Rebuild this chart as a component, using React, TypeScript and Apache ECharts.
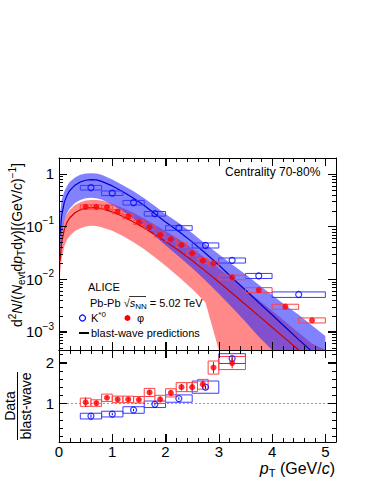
import React, { useEffect, useRef } from "react";
import * as echarts from "echarts";

// ---- blast-wave prediction curves ----
const bwPt = [0.02, 0.05, 0.1, 0.15, 0.2, 0.3, 0.4, 0.5, 0.6, 0.7, 0.8, 1.0, 1.2, 1.4, 1.6, 1.8, 2.0, 2.25, 2.5, 2.75, 3.0, 3.25, 3.5, 3.75, 4.0, 4.25, 4.5, 4.75, 5.0];
const bwKstar = [0.07, 0.16, 0.29, 0.39, 0.48, 0.61, 0.7, 0.755, 0.775, 0.77, 0.72, 0.59, 0.455, 0.345, 0.25, 0.175, 0.122, 0.08, 0.051, 0.031, 0.0185, 0.0106, 0.0062, 0.0036, 0.0021, 0.00122, 0.00071, 0.00042, 0.00025];
const bwKstarHi = [0.175, 0.32, 0.46, 0.585, 0.7, 0.85, 0.96, 1.02, 1.03, 1.02, 0.96, 0.785, 0.605, 0.466, 0.343, 0.245, 0.173, 0.116, 0.0755, 0.0465, 0.0296, 0.019, 0.0124, 0.0078, 0.005, 0.0032, 0.0021, 0.00131, 0.00083];
const bwKstarLo = [0.025, 0.07, 0.13, 0.18, 0.22, 0.28, 0.32, 0.345, 0.35, 0.345, 0.325, 0.26, 0.195, 0.14, 0.098, 0.066, 0.044, 0.027, 0.0163, 0.0094, 0.0053, 0.0029, 0.00155, 0.0008, 0.0001, 0.0001, 0.0001, 0.0001, 0.0001];
const bwPhi = [0.022, 0.05, 0.088, 0.12, 0.145, 0.182, 0.207, 0.222, 0.228, 0.227, 0.218, 0.19, 0.155, 0.122, 0.094, 0.07, 0.052, 0.035, 0.0225, 0.0142, 0.0088, 0.0054, 0.0033, 0.002, 0.00122, 0.00074, 0.00045, 0.00027, 0.00016];
const bwPhiHi = [0.05, 0.09, 0.135, 0.175, 0.205, 0.255, 0.29, 0.31, 0.32, 0.32, 0.31, 0.27, 0.225, 0.18, 0.142, 0.108, 0.082, 0.057, 0.038, 0.025, 0.0161, 0.0102, 0.0064, 0.004, 0.0025, 0.00155, 0.00096, 0.0006, 0.00037];
const bwPhiLo = [0.012, 0.025, 0.042, 0.056, 0.066, 0.082, 0.093, 0.1, 0.103, 0.102, 0.097, 0.083, 0.066, 0.05, 0.037, 0.026, 0.018, 0.011, 0.0065, 0.0036, 0.0001, 0.0001, 0.0001, 0.0001, 0.0001, 0.0001, 0.0001, 0.0001, 0.0001];

// ---- K*0 spectrum ----
const kstarPt = [0.6, 1.0, 1.4, 1.8, 2.25, 2.75, 3.25, 3.75, 4.5];
const kstarBinLo = [0.4, 0.8, 1.2, 1.6, 2.0, 2.5, 3.0, 3.5, 4.0];
const kstarBinHi = [0.8, 1.2, 1.6, 2.0, 2.5, 3.0, 3.5, 4.0, 5.0];
const kstarYield = [0.548, 0.43, 0.284, 0.175, 0.094, 0.0438, 0.0227, 0.01155, 0.0051];
const kstarSysRel = [0.1, 0.1, 0.1, 0.1, 0.1, 0.11, 0.11, 0.11, 0.12];

// ---- phi spectrum ----
const phiPt = [0.5, 0.7, 0.9, 1.1, 1.3, 1.5, 1.7, 1.9, 2.1, 2.3, 2.5, 2.7, 2.9, 3.25, 3.75, 4.25, 4.75];
const phiBinLo = [0.4, 0.6, 0.8, 1.0, 1.2, 1.4, 1.6, 1.8, 2.0, 2.2, 2.4, 2.6, 2.8, 3.0, 3.5, 4.0, 4.5];
const phiBinHi = [0.6, 0.8, 1.0, 1.2, 1.4, 1.6, 1.8, 2.0, 2.2, 2.4, 2.6, 2.8, 3.0, 3.5, 4.0, 4.5, 5.0];
const phiYield = [0.236, 0.236, 0.232, 0.191, 0.154, 0.12, 0.097, 0.069, 0.057, 0.0444, 0.0309, 0.0223, 0.0199, 0.0108, 0.0062, 0.003, 0.00165];
const phiSysRel = [0.09, 0.09, 0.09, 0.09, 0.09, 0.09, 0.09, 0.09, 0.09, 0.1, 0.1, 0.1, 0.1, 0.1, 0.11, 0.11, 0.11];

// ---- Data / blast-wave ratios ----
const kstarRatio = [0.69, 0.74, 0.84, 0.98, 1.12, 1.4, 2.1];
const kstarRatioSys = [0.07, 0.07, 0.08, 0.08, 0.09, 0.15, 0.12];
const kstarRatioStat = [0.04, 0.03, 0.03, 0.03, 0.03, 0.04, 0.05];
const phiRatio = [1.03, 1.01, 1.14, 1.1, 1.1, 1.09, 1.27, 1.1, 1.26, 1.4, 1.4, 1.47, 1.88, 1.99];
const phiRatioSys = [0.1, 0.08, 0.09, 0.08, 0.08, 0.08, 0.1, 0.1, 0.1, 0.11, 0.11, 0.12, 0.16, 0.16];
const phiRatioStat = [0.12, 0.05, 0.05, 0.05, 0.05, 0.05, 0.06, 0.07, 0.07, 0.08, 0.08, 0.1, 0.14, 0.13];

// ---- axis ticks ----
const xMajor = [0, 1, 2, 3, 4, 5];
const xMinor = [0.2, 0.4, 0.6, 0.8, 1.2, 1.4, 1.6, 1.8, 2.2, 2.4, 2.6, 2.8, 3.2, 3.4, 3.6, 3.8, 4.2, 4.4, 4.6, 4.8, 5.2];
const logMajor = [0.001, 0.01, 0.1, 1];
const logMinor = [0.0005, 0.0006, 0.0007, 0.0008, 0.0009, 0.002, 0.003, 0.004, 0.005, 0.006, 0.007, 0.008, 0.009, 0.02, 0.03, 0.04, 0.05, 0.06, 0.07, 0.08, 0.09, 0.2, 0.3, 0.4, 0.5, 0.6, 0.7, 0.8, 0.9];
const ratioMajor = [1, 2];
const ratioMinor = [0.2, 0.4, 0.6, 0.8, 1.2, 1.4, 1.6, 1.8, 2.2];

const X_MIN = 0, X_MAX = 5.2;
const LOG_MIN = 4.5e-4, LOG_MAX = 2.0;
const R_MIN = 0.056, R_MAX = 2.31;

const BLUE = "#0000ff";
const RED = "#ff0000";
const FONT = '"Liberation Sans", Arial, Helvetica, sans-serif';

const clamp = (v: number, a: number, b: number) => Math.min(b, Math.max(a, v));

function bandSeries(lo: number[], hi: number[], fill: string, z: number) {
  return {
    type: "custom",
    xAxisIndex: 0,
    yAxisIndex: 0,
    z,
    silent: true,
    data: [0],
    renderItem: (params: any, api: any) => {
      const pts: number[][] = [];
      for (let i = 0; i < bwPt.length; i++) pts.push(api.coord([bwPt[i], clamp(hi[i], LOG_MIN, LOG_MAX)]));
      for (let i = bwPt.length - 1; i >= 0; i--) pts.push(api.coord([bwPt[i], clamp(lo[i], LOG_MIN, LOG_MAX)]));
      return { type: "polygon", shape: { points: pts }, style: { fill, stroke: "none" } };
    },
  };
}

function boxSeries(items: number[][], color: string, xi: number, yi: number, ymin: number, ymax: number, z: number) {
  return {
    type: "custom",
    xAxisIndex: xi,
    yAxisIndex: yi,
    z,
    silent: true,
    data: items,
    renderItem: (params: any, api: any) => {
      const lo = api.value(0), hi = api.value(1), y0 = api.value(2), y1 = api.value(3);
      const p0 = api.coord([lo, clamp(y1, ymin, ymax)]);
      const p1 = api.coord([hi, clamp(y0, ymin, ymax)]);
      return {
        type: "rect",
        shape: { x: p0[0], y: p0[1], width: p1[0] - p0[0], height: p1[1] - p0[1] },
        style: { fill: "none", stroke: color, lineWidth: 1 },
      };
    },
  };
}

function errSeries(items: number[][], color: string, xi: number, yi: number, z: number) {
  return {
    type: "custom",
    xAxisIndex: xi,
    yAxisIndex: yi,
    z,
    silent: true,
    data: items,
    renderItem: (params: any, api: any) => {
      const x = api.value(0), y0 = api.value(1), y1 = api.value(2);
      const a = api.coord([x, y0]);
      const b = api.coord([x, y1]);
      return { type: "line", shape: { x1: a[0], y1: a[1], x2: b[0], y2: b[1] }, style: { stroke: color, lineWidth: 1 } };
    },
  };
}

function xTickSeries(xi: number, yi: number, yRef: number, vals: number[], len: number) {
  return {
    type: "custom",
    xAxisIndex: xi,
    yAxisIndex: yi,
    z: 10,
    silent: true,
    data: vals.map((v) => [v, yRef]),
    renderItem: (params: any, api: any) => {
      const cs = params.coordSys;
      const px = Math.round(api.coord([api.value(0), api.value(1)])[0]) + 0.5;
      return {
        type: "group",
        children: [
          { type: "line", shape: { x1: px, y1: cs.y + cs.height, x2: px, y2: cs.y + cs.height - len }, style: { stroke: "#000", lineWidth: 1 } },
          { type: "line", shape: { x1: px, y1: cs.y, x2: px, y2: cs.y + len }, style: { stroke: "#000", lineWidth: 1 } },
        ],
      };
    },
  };
}

function yTickSeries(xi: number, yi: number, xRef: number, vals: number[], len: number) {
  return {
    type: "custom",
    xAxisIndex: xi,
    yAxisIndex: yi,
    z: 10,
    silent: true,
    data: vals.map((v) => [xRef, v]),
    renderItem: (params: any, api: any) => {
      const cs = params.coordSys;
      const py = Math.round(api.coord([api.value(0), api.value(1)])[1]) + 0.5;
      return {
        type: "group",
        children: [
          { type: "line", shape: { x1: cs.x, y1: py, x2: cs.x + len, y2: py }, style: { stroke: "#000", lineWidth: 1 } },
          { type: "line", shape: { x1: cs.x + cs.width, y1: py, x2: cs.x + cs.width - len, y2: py }, style: { stroke: "#000", lineWidth: 1 } },
        ],
      };
    },
  };
}

const axisLineStyle = { show: true, onZero: false, lineStyle: { color: "#000", width: 1 } };

function xAxis(grid: number, position: string, showLabels: boolean) {
  return {
    type: "value",
    gridIndex: grid,
    position,
    min: X_MIN,
    max: X_MAX,
    axisLine: axisLineStyle,
    splitLine: { show: false },
    axisTick: { show: true, inside: true, length: 8, customValues: xMajor, lineStyle: { color: "#000" } },
    axisLabel: {
      show: showLabels,
      customValues: xMajor,
      margin: 2,
      fontSize: 15,
      fontFamily: FONT,
      color: "#000",
      formatter: (v: number) => String(v),
    },
  };
}

const logFormatter = (v: number) => {
  const l = Math.log10(v);
  const e = Math.round(l);
  if (Math.abs(l - e) > 1e-6) return "";
  if (e === 0) return "1";
  return `{b|10}{s|\u2212${-e}}`;
};

function logAxis(position: string, showLabels: boolean) {
  return {
    type: "log",
    logBase: 10,
    gridIndex: 0,
    position,
    min: LOG_MIN,
    max: LOG_MAX,
    axisLine: axisLineStyle,
    splitLine: { show: false },
    axisTick: { show: true, inside: true, length: 8, customValues: logMajor, lineStyle: { color: "#000" } },
    axisLabel: {
      show: showLabels,
      customValues: logMajor,
      margin: 5,
      fontSize: 15,
      fontFamily: FONT,
      color: "#000",
      formatter: logFormatter,
      rich: {
        b: { fontSize: 15, fontFamily: FONT, color: "#000" },
        s: { fontSize: 10, fontFamily: FONT, color: "#000", padding: [0, 0, 11, 0] },
      },
    },
  };
}

function ratioAxis(position: string, showLabels: boolean) {
  return {
    type: "value",
    gridIndex: 1,
    position,
    min: R_MIN,
    max: R_MAX,
    axisLine: axisLineStyle,
    splitLine: { show: false },
    axisTick: { show: true, inside: true, length: 8, customValues: ratioMajor, lineStyle: { color: "#000" } },
    axisLabel: {
      show: showLabels,
      customValues: ratioMajor,
      margin: 5,
      fontSize: 15,
      fontFamily: FONT,
      color: "#000",
      formatter: (v: number) => String(v),
    },
  };
}

function buildOption() {
  const kstarBoxes = kstarPt.map((_, i) => [kstarBinLo[i], kstarBinHi[i], kstarYield[i] * (1 - kstarSysRel[i]), kstarYield[i] * (1 + kstarSysRel[i])]);
  const phiBoxes = phiPt.map((_, i) => [phiBinLo[i], phiBinHi[i], phiYield[i] * (1 - phiSysRel[i]), phiYield[i] * (1 + phiSysRel[i])]);
  const kstarRBoxes = kstarRatio.map((r, i) => [kstarBinLo[i], kstarBinHi[i], r - kstarRatioSys[i], r + kstarRatioSys[i]]);
  const phiRBoxes = phiRatio.map((r, i) => [phiBinLo[i], phiBinHi[i], r - phiRatioSys[i], r + phiRatioSys[i]]);
  const kstarRErr = kstarRatio.map((r, i) => [kstarPt[i], r - kstarRatioStat[i], Math.min(r + kstarRatioStat[i], R_MAX)]);
  const phiRErr = phiRatio.map((r, i) => [phiPt[i], r - phiRatioStat[i], Math.min(r + phiRatioStat[i], R_MAX)]);

  const textBase = { fontFamily: FONT, fill: "#000" };

  return {
    animation: false,
    backgroundColor: "#fff",
    grid: [
      { left: 59, top: 158, width: 277, height: 192 },
      { left: 59, top: 350, width: 277, height: 92 },
    ],
    xAxis: [xAxis(0, "bottom", false), xAxis(0, "top", false), xAxis(1, "bottom", true), xAxis(1, "top", false)],
    yAxis: [logAxis("left", true), logAxis("right", false), ratioAxis("left", true), ratioAxis("right", false)],
    series: [
      bandSeries(bwPhiLo, bwPhiHi, "rgba(255,45,45,0.56)", 1),
      bandSeries(bwKstarLo, bwKstarHi, "rgba(40,40,255,0.58)", 1),
      {
        type: "line",
        xAxisIndex: 0,
        yAxisIndex: 0,
        z: 2,
        data: bwPt.map((p, i) => [p, bwKstar[i]]),
        showSymbol: false,
        symbol: "none",
        lineStyle: { color: "#0000cc", width: 1.2 },
        clip: true,
        silent: true,
      },
      {
        type: "line",
        xAxisIndex: 0,
        yAxisIndex: 0,
        z: 2,
        data: bwPt.map((p, i) => [p, bwPhi[i]]),
        showSymbol: false,
        symbol: "none",
        lineStyle: { color: "#cc0000", width: 1.2 },
        clip: true,
        silent: true,
      },
      boxSeries(kstarBoxes, "#3a3aff", 0, 0, LOG_MIN, LOG_MAX, 3),
      boxSeries(phiBoxes, "#ff4040", 0, 0, LOG_MIN, LOG_MAX, 3),
      {
        type: "scatter",
        xAxisIndex: 0,
        yAxisIndex: 0,
        z: 4,
        symbol: "circle",
        symbolSize: 6,
        data: kstarPt.map((p, i) => [p, kstarYield[i]]),
        itemStyle: { color: "rgba(255,255,255,0)", borderColor: BLUE, borderWidth: 1.2 },
        silent: true,
      },
      {
        type: "scatter",
        xAxisIndex: 0,
        yAxisIndex: 0,
        z: 5,
        symbol: "circle",
        symbolSize: 6,
        data: phiPt.map((p, i) => [p, phiYield[i]]),
        itemStyle: { color: RED },
        silent: true,
      },
      // ratio panel
      {
        type: "line",
        xAxisIndex: 2,
        yAxisIndex: 2,
        z: 1,
        data: [[X_MIN, 1], [X_MAX, 1]],
        showSymbol: false,
        symbol: "none",
        lineStyle: { color: "#999", width: 1, type: [2, 2] },
        silent: true,
      },
      boxSeries(kstarRBoxes, "#3a3aff", 2, 2, R_MIN, R_MAX, 3),
      boxSeries(phiRBoxes, "#ff4040", 2, 2, R_MIN, R_MAX, 3),
      errSeries(kstarRErr, BLUE, 2, 2, 4),
      errSeries(phiRErr, RED, 2, 2, 4),
      {
        type: "scatter",
        xAxisIndex: 2,
        yAxisIndex: 2,
        z: 5,
        symbol: "circle",
        symbolSize: 6,
        data: kstarRatio.map((r, i) => [kstarPt[i], r]),
        itemStyle: { color: "rgba(255,255,255,0)", borderColor: BLUE, borderWidth: 1.2 },
        silent: true,
      },
      {
        type: "scatter",
        xAxisIndex: 2,
        yAxisIndex: 2,
        z: 6,
        symbol: "circle",
        symbolSize: 6,
        data: phiRatio.map((r, i) => [phiPt[i], r]),
        itemStyle: { color: RED },
        silent: true,
      },
      // minor ticks
      xTickSeries(0, 0, 0.01, xMinor, 4),
      yTickSeries(0, 0, 1, logMinor, 4),
      xTickSeries(2, 2, 1, xMinor, 4),
      yTickSeries(2, 2, 1, ratioMinor, 4),
      xTickSeries(1, 1, 0.01, xMajor, 8),
      yTickSeries(1, 1, 1, logMajor, 8),
      xTickSeries(3, 3, 1, xMajor, 8),
      yTickSeries(3, 3, 1, ratioMajor, 8),
    ],
    graphic: [
      {
        type: "text",
        x: 17,
        y: 245,
        rotation: Math.PI / 2,
        style: {
          ...textBase,
          fontSize: 14,
          text: "d{sup|2}{i|N}/({i|N}{sub|evt}d{i|p}{sub|T}d{i|y})[(GeV/{i|c}){sup|\u22121}]",
          align: "center",
          verticalAlign: "middle",
          textAlign: "center",
          textVerticalAlign: "middle",
          rich: {
            i: { fontFamily: FONT, fontStyle: "italic", fontSize: 14 },
            sup: { fontFamily: FONT, fontSize: 10, padding: [0, 0, 10, 0] },
            sub: { fontFamily: FONT, fontSize: 10, padding: [8, 0, 0, 0] },
          },
        },
      },
      {
        type: "text",
        x: 10,
        y: 406,
        rotation: Math.PI / 2,
        style: { ...textBase, fontSize: 14, text: "Data", align: "center", verticalAlign: "middle", textAlign: "center", textVerticalAlign: "middle" },
      },
      {
        type: "line",
        shape: { x1: 17.5, y1: 372, x2: 17.5, y2: 440 },
        style: { stroke: "#000", lineWidth: 1 },
      },
      {
        type: "text",
        x: 26,
        y: 406,
        rotation: Math.PI / 2,
        style: { ...textBase, fontSize: 14, text: "blast-wave", align: "center", verticalAlign: "middle", textAlign: "center", textVerticalAlign: "middle" },
      },
      {
        type: "text",
        x: 335,
        y: 468,
        style: {
          ...textBase,
          fontSize: 16,
          text: "{i|p}{sub|T} (GeV/{i|c})",
          align: "right",
          verticalAlign: "middle",
          textAlign: "right",
          textVerticalAlign: "middle",
          rich: {
            i: { fontFamily: FONT, fontStyle: "italic", fontSize: 16 },
            sub: { fontFamily: FONT, fontSize: 11, padding: [9, 0, 0, 0] },
          },
        },
      },
      {
        type: "text",
        x: 225,
        y: 172,
        style: { ...textBase, fontSize: 12, text: "Centrality 70-80%", align: "left", verticalAlign: "middle", textAlign: "left", textVerticalAlign: "middle" },
      },
      {
        type: "text",
        x: 88,
        y: 287,
        style: { ...textBase, fontSize: 11, text: "ALICE", align: "left", verticalAlign: "middle", textAlign: "left", textVerticalAlign: "middle" },
      },
      {
        type: "text",
        x: 90,
        y: 303,
        style: {
          ...textBase,
          fontSize: 11,
          text: "Pb-Pb \u221A{i|s}{sub|NN} = 5.02 TeV",
          align: "left",
          verticalAlign: "middle",
          textAlign: "left",
          textVerticalAlign: "middle",
          rich: {
            i: { fontFamily: FONT, fontStyle: "italic", fontSize: 11 },
            sub: { fontFamily: FONT, fontSize: 8, padding: [6, 0, 0, 0] },
          },
        },
      },
      {
        type: "line",
        shape: { x1: 129, y1: 296.5, x2: 146, y2: 296.5 },
        style: { stroke: "#000", lineWidth: 0.8 },
      },
      { type: "circle", shape: { cx: 82.5, cy: 318, r: 3 }, style: { fill: "none", stroke: BLUE, lineWidth: 1.2 } },
      {
        type: "text",
        x: 91,
        y: 318,
        style: {
          ...textBase,
          fontSize: 11,
          text: "K{sup|*0}",
          align: "left",
          verticalAlign: "middle",
          textAlign: "left",
          textVerticalAlign: "middle",
          rich: { sup: { fontFamily: FONT, fontSize: 8, padding: [0, 0, 7, 0] } },
        },
      },
      { type: "circle", shape: { cx: 127.5, cy: 318, r: 3 }, style: { fill: RED, stroke: "none" } },
      {
        type: "text",
        x: 137,
        y: 318,
        style: { ...textBase, fontSize: 11, text: "\u03C6", align: "left", verticalAlign: "middle", textAlign: "left", textVerticalAlign: "middle" },
      },
      { type: "line", shape: { x1: 79, y1: 333, x2: 89, y2: 333 }, style: { stroke: "#000", lineWidth: 2 } },
      {
        type: "text",
        x: 91,
        y: 333,
        style: { ...textBase, fontSize: 11, text: "blast-wave predictions", align: "left", verticalAlign: "middle", textAlign: "left", textVerticalAlign: "middle" },
      },
    ],
  };
}

export default function App() {
  const ref = useRef<HTMLDivElement>(null);
  useEffect(() => {
    if (!ref.current) return;
    const chart = echarts.init(ref.current, undefined, { renderer: "svg" });
    chart.setOption(buildOption() as any);
    return () => chart.dispose();
  }, []);
  return <div ref={ref} style={{ position: "absolute", left: 0, top: 0, width: 374, height: 484 }} />;
}
